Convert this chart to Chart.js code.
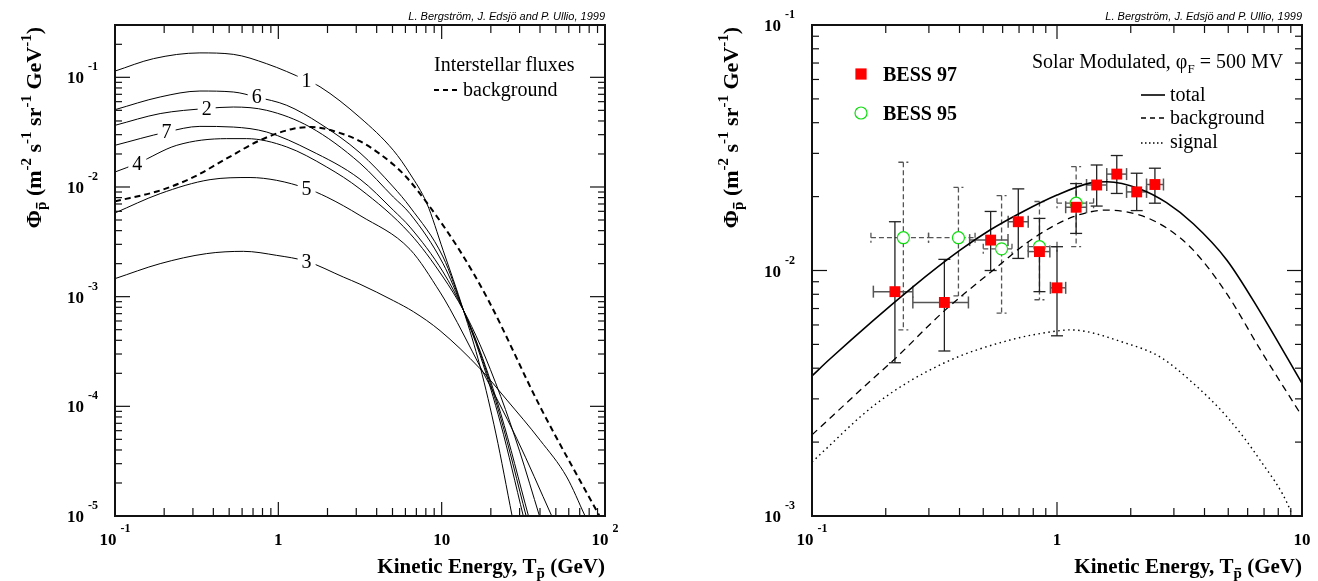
<!DOCTYPE html>
<html><head><meta charset="utf-8">
<script src="https://cdn.jsdelivr.net/npm/chart.js@4.4.1/dist/chart.umd.min.js"></script>
<style>
html,body{margin:0;padding:0;background:#fff;}
#wrap{position:relative;width:1318px;height:581px;overflow:hidden;background:#fff;}
canvas{position:absolute;top:0;}
</style></head><body>
<div id="wrap">
<canvas id="leftChart" width="659" height="581" style="left:0;width:659px;height:581px"></canvas>
<canvas id="rightChart" width="659" height="581" style="left:659px;width:659px;height:581px"></canvas>
</div>
<script>
// ================= DATA: left panel (interstellar fluxes) =================
const curve1Energy = [0.1,0.172,0.331,0.53,0.849,1.49,1.8,3.16,5.06,6.4,8.11,10.2,13.6,17.2,21.5,27.0];
const curve1Flux   = [0.114,0.148,0.167,0.162,0.133,0.094,0.082,0.043,0.0216,0.0132,0.0071,0.00265,7.5e-4,2.3e-4,5.6e-5,1e-5];
const curve6Energy = [0.1,0.189,0.331,0.53,0.737,1.125,1.8,3.16,5.06,6.4,10.2,13.6,17.2,23,31.6];
const curve6Flux   = [0.0507,0.0662,0.075,0.0735,0.066,0.0556,0.0378,0.0205,0.0100,0.00657,0.0023,7.5e-4,2.92e-4,6.9e-5,1e-5];
const curve2Energy = [0.1,0.189,0.364,0.53,0.849,1.563,3.16,5.06,6.4,10.2,13.6,17.2,23,32.9];
const curve2Flux   = [0.0365,0.0467,0.052,0.0536,0.050,0.0352,0.0165,0.0081,0.00571,0.0020,7.5e-4,3.07e-4,7.8e-5,1e-5];
const curve7Energy = [0.1,0.207,0.331,0.53,0.849,1.563,3.16,5.06,6.4,10.2,13.6,17.2,23,34.0];
const curve7Flux   = [0.024,0.0317,0.0357,0.0352,0.0317,0.0216,0.0118,0.00614,0.00431,0.00168,7.5e-4,3.18e-4,8.6e-5,1e-5];
const curve4Energy = [0.1,0.137,0.239,0.483,0.64,1.125,1.98,3.16,6.4,10.2,13.6,17.2,23,30,39.7];
const curve4Flux   = [0.0137,0.0164,0.024,0.0276,0.0276,0.0232,0.0152,0.0096,0.00376,0.00151,7.5e-4,3.63e-4,1.23e-4,3.9e-5,1e-5];
const curve5Energy = [0.1,0.189,0.382,0.671,0.977,1.49,1.98,3.16,6.4,9.77,11.2,17.2,28.8,47.2];
const curve5Flux   = [0.0058,0.0087,0.01167,0.0122,0.0115,0.0097,0.0081,0.0055,0.0027,0.0011,7.8e-4,2.3e-4,5.1e-5,1e-5];
const curve3Energy = [0.1,0.189,0.364,0.611,0.977,1.49,2.5,3.16,5.06,6.71,9.77,17.2,25.1,40.1,58.3,75.5];
const curve3Flux   = [0.00146,0.002,0.00247,0.00259,0.00238,0.0021,0.00151,0.0013,9.2e-4,7.3e-4,4.9e-4,2.2e-4,1.14e-4,4.9e-5,2.27e-5,1e-5];
const isBgEnergy   = [0.1,0.189,0.302,0.483,0.773,1.236,1.6,2.62,3.16,4.19,5.06,6.11,8.11,12.97,19.3,40.1,92.5];
const isBgFlux     = [0.0074,0.0093,0.0123,0.0182,0.0267,0.034,0.0352,0.0296,0.0262,0.0200,0.0160,0.0122,0.0072,0.0026,9.3e-4,9.9e-5,1e-5];
const curveLabelText   = ['1','6','2','7','4','5','3'];
const curveLabelEnergy = [1.49,0.737,0.364,0.207,0.137,1.49,1.49];
const curveLabelFlux   = [0.094,0.066,0.052,0.0317,0.0164,0.0097,0.0021];
const leftXTickValues = [0.1,1,10,100];
const leftXTickBase   = ['10','1','10','10'];
const leftXTickExp    = ['-1','','','2'];
const leftYTickValues = [0.1,0.01,0.001,1e-4,1e-5];
const leftYTickExp    = ['-1','-2','-3','-4','-5'];

// ================= DATA: right panel (solar modulated) =================
const bess97Energy     = [0.218,0.347,0.536,0.695,0.848,1.0,1.197,1.452,1.754,2.115,2.51];
const bess97Flux       = [0.0082,0.00741,0.0133,0.0158,0.01194,0.0085,0.0181,0.0223,0.0247,0.0209,0.0224];
const bess97FluxHigh   = [0.0158,0.0111,0.0174,0.0215,0.0163,0.0125,0.0226,0.0269,0.0294,0.0249,0.0261];
const bess97FluxLow    = [0.00421,0.0047,0.0100,0.0112,0.0082,0.00542,0.01416,0.0183,0.0206,0.01754,0.0188];
const bess97EnergyLow  = [0.178,0.258,0.44,0.632,0.763,0.94,1.085,1.32,1.596,1.923,2.32];
const bess97EnergyHigh = [0.258,0.435,0.631,0.763,0.935,1.085,1.32,1.596,1.923,2.32,2.72];
const bess95Energy     = [0.236,0.396,0.594,0.848,1.197];
const bess95Flux       = [0.0136,0.0136,0.01225,0.0125,0.0188];
const bess95FluxHigh   = [0.0276,0.0218,0.0202,0.0191,0.0265];
const bess95FluxLow    = [0.00573,0.00788,0.0067,0.0076,0.0125];
const bess95EnergyLow  = [0.174,0.299,0.50,0.763,1.0];
const bess95EnergyHigh = [0.299,0.463,0.655,1.0,1.41];
const totalEnergy = [0.1,0.118,0.259,0.402,0.533,0.728,1.0,1.36,1.6,2.18,2.8,3.6,4.93,6.74,10];
const totalFlux   = [0.00372,0.00435,0.0086,0.0121,0.01462,0.0174,0.0203,0.0227,0.0230,0.0215,0.0189,0.0155,0.01104,0.0068,0.00347];
const bgEnergy    = [0.1,0.178,0.215,0.344,0.55,0.80,1.167,1.6,2.18,2.8,3.6,4.93,6.74,10];
const bgFlux      = [0.00214,0.00364,0.00431,0.0068,0.01005,0.01352,0.01656,0.01762,0.0168,0.0149,0.0121,0.00805,0.00478,0.00255];
const sigEnergy   = [0.1,0.184,0.344,0.643,1.0,1.13,1.92,2.63,3.6,4.93,6.74,8.94,9.6];
const sigFlux     = [0.00166,0.00288,0.00419,0.00521,0.00567,0.00573,0.00505,0.00445,0.00347,0.00254,0.00169,0.00106,0.00085];
const rightXTickValues = [0.1,1,10];
const rightXTickBase   = ['10','1','10'];
const rightXTickExp    = ['-1','',''];
const rightYTickValues = [0.1,0.01,0.001];
const rightYTickExp    = ['-1','-2','-3'];

// ================= helpers =================
const SERIF = '"Liberation Serif","Times New Roman",Times,serif';
const SANS  = '"Liberation Sans",Arial,Helvetica,sans-serif';
const CREDIT = 'L. Bergström, J. Edsjö and P. Ullio, 1999';
function pts(xs, ys){ return xs.map((x,i)=>({x:x, y:ys[i]})); }
function line(ctx,x1,y1,x2,y2){ ctx.beginPath(); ctx.moveTo(x1,y1); ctx.lineTo(x2,y2); ctx.stroke(); }
function logTicks(min,max){
  const out=[]; const e0=Math.floor(Math.log10(min)-1e-9), e1=Math.ceil(Math.log10(max)+1e-9);
  for(let e=e0;e<=e1;e++) for(let m=1;m<=9;m++){ const v=m*Math.pow(10,e); if(v>=min*(1-1e-9)&&v<=max*(1+1e-9)) out.push({v:v,major:m===1}); }
  return out;
}
function fontOf(p){ return (p.italic?'italic ':'')+(p.bold?'bold ':'')+p.size+'px '+(p.family||SERIF); }
function richWidth(ctx,pieces){ let w=0; for(const p of pieces){ ctx.font=fontOf(p); w+=ctx.measureText(p.t).width; } return w; }
function drawRich(ctx,pieces,x,y){
  let cx=x;
  for(const p of pieces){
    ctx.font=fontOf(p); const w=ctx.measureText(p.t).width;
    ctx.fillText(p.t,cx,y+(p.dy||0));
    if(p.bar){ ctx.save(); ctx.lineWidth=1.5; ctx.strokeStyle='#000'; const by=y+(p.dy||0)-p.size*0.62; line(ctx,cx+1.5,by,cx+w-1,by); ctx.restore(); }
    cx+=w;
  }
}
function drawPow(ctx,base,exp,x,y,align){
  ctx.font='bold 17px '+SERIF; const wb=ctx.measureText(base).width;
  ctx.font='bold 12px '+SERIF; const we=exp?ctx.measureText(exp).width+4:0;
  const w=wb+we; const x0 = align==='center'?x-w/2:(align==='right'?x-w:x);
  ctx.textAlign='left'; ctx.textBaseline='alphabetic'; ctx.fillStyle='#000';
  ctx.font='bold 17px '+SERIF; ctx.fillText(base,x0,y);
  if(exp){ ctx.font='bold 12px '+SERIF; ctx.fillText(exp,x0+wb+4,y-13); }
}
function drawFrame(chart, xt, xb, xe, yt, ye){
  const ctx=chart.ctx, a=chart.chartArea, x=chart.scales.x, y=chart.scales.y;
  ctx.save();
  ctx.strokeStyle='#111'; ctx.lineWidth=1.2;
  for(const t of logTicks(x.min,x.max)){
    const p=x.getPixelForValue(t.v); const L=t.major?14:8;
    line(ctx,p,a.bottom,p,a.bottom-L); line(ctx,p,a.top,p,a.top+L);
  }
  for(const t of logTicks(y.min,y.max)){
    const p=y.getPixelForValue(t.v); const L=t.major?15:7;
    line(ctx,a.left,p,a.left+L,p); line(ctx,a.right,p,a.right-L,p);
  }
  ctx.lineWidth=2; ctx.strokeRect(a.left,a.top,a.right-a.left,a.bottom-a.top);
  for(let i=0;i<xt.length;i++) drawPow(ctx,xb[i],xe[i],x.getPixelForValue(xt[i]),a.bottom+29,'center');
  for(let i=0;i<yt.length;i++) drawPow(ctx,'10',ye[i],a.left-17,y.getPixelForValue(yt[i])+6,'right');
  // axis titles
  ctx.fillStyle='#000'; ctx.textAlign='left'; ctx.textBaseline='alphabetic';
  const xTitle=[{t:'Kinetic Energy, T',size:21,bold:true},{t:'p',size:15,bold:true,dy:5,bar:true},{t:' (GeV)',size:21,bold:true}];
  const wx=richWidth(ctx,xTitle); drawRich(ctx,xTitle,a.right-wx,a.bottom+57);
  const yTitle=[{t:'Φ',size:22,bold:true},{t:'p',size:15,bold:true,dy:5,bar:true},{t:' (m',size:22,bold:true},{t:'-2',size:15,bold:true,dy:-10},
    {t:' s',size:22,bold:true},{t:'-1',size:15,bold:true,dy:-10},{t:' sr',size:22,bold:true},{t:'-1',size:15,bold:true,dy:-10},
    {t:' GeV',size:22,bold:true},{t:'-1',size:15,bold:true,dy:-10},{t:')',size:22,bold:true}];
  const wy=richWidth(ctx,yTitle);
  ctx.save(); ctx.translate(a.left-74,a.top+2+wy); ctx.rotate(-Math.PI/2); drawRich(ctx,yTitle,0,0); ctx.restore();
  // credit
  ctx.font='italic 11px '+SANS; ctx.textAlign='right'; ctx.fillText(CREDIT,a.right,20);
  ctx.restore();
}

// ================= left chart =================
const leftCurveSets = [
  [curve1Energy,curve1Flux],[curve6Energy,curve6Flux],[curve2Energy,curve2Flux],[curve7Energy,curve7Flux],
  [curve4Energy,curve4Flux],[curve5Energy,curve5Flux],[curve3Energy,curve3Flux]
];
const leftDatasets = leftCurveSets.map(c=>({data:pts(c[0],c[1]),borderColor:'#000',borderWidth:1,pointRadius:0,cubicInterpolationMode:'monotone',fill:false}));
leftDatasets.push({data:pts(isBgEnergy,isBgFlux),borderColor:'#000',borderWidth:2,borderDash:[6,4],pointRadius:0,cubicInterpolationMode:'monotone',fill:false});

const leftDecor = {
  id:'leftDecor',
  afterDatasetsDraw(chart){
    const ctx=chart.ctx, x=chart.scales.x, y=chart.scales.y;
    ctx.save(); ctx.font='20px '+SERIF; ctx.textAlign='center'; ctx.textBaseline='middle';
    for(let i=0;i<curveLabelText.length;i++){
      const px=x.getPixelForValue(curveLabelEnergy[i]), py=y.getPixelForValue(curveLabelFlux[i]);
      const w=ctx.measureText(curveLabelText[i]).width;
      ctx.fillStyle='#fff'; ctx.fillRect(px-w/2-4,py-9,w+8,18);
      ctx.fillStyle='#000'; ctx.fillText(curveLabelText[i],px,py+1);
    }
    ctx.restore();
  },
  afterDraw(chart){
    drawFrame(chart,leftXTickValues,leftXTickBase,leftXTickExp,leftYTickValues,leftYTickExp);
    const ctx=chart.ctx; ctx.save();
    ctx.fillStyle='#000'; ctx.textAlign='left'; ctx.textBaseline='alphabetic';
    ctx.font='20px '+SERIF; ctx.fillText('Interstellar fluxes',434,71);
    ctx.strokeStyle='#000'; ctx.lineWidth=2; ctx.setLineDash([5,4]); line(ctx,434,90,460,90); ctx.setLineDash([]);
    ctx.fillText('background',463,96);
    ctx.restore();
  }
};

new Chart(document.getElementById('leftChart'), {
  type:'line',
  data:{datasets:leftDatasets},
  options:{
    responsive:false, animation:false, events:[], devicePixelRatio:1,
    layout:{padding:{left:115,right:54,top:25,bottom:65}},
    plugins:{legend:{display:false},tooltip:{enabled:false}},
    scales:{
      x:{type:'logarithmic',min:0.1,max:100,display:false},
      y:{type:'logarithmic',min:1e-5,max:0.3,display:false}
    }
  },
  plugins:[leftDecor]
});

// ================= right chart =================
const rightDecor = {
  id:'rightDecor',
  beforeDatasetsDraw(chart){
    const ctx=chart.ctx, x=chart.scales.x, y=chart.scales.y;
    ctx.save();
    // BESS 95: dashed grey error bars
    ctx.strokeStyle='#555'; ctx.lineWidth=1.3; ctx.setLineDash([5,3]);
    for(let i=0;i<bess95Energy.length;i++){
      const px=x.getPixelForValue(bess95Energy[i]), py=y.getPixelForValue(bess95Flux[i]);
      const yh=y.getPixelForValue(bess95FluxHigh[i]), yl=y.getPixelForValue(bess95FluxLow[i]);
      const xl=x.getPixelForValue(bess95EnergyLow[i]), xh=x.getPixelForValue(bess95EnergyHigh[i]);
      line(ctx,px,yh,px,yl); line(ctx,xl,py,xh,py);
      line(ctx,px-5,yh,px+5,yh); line(ctx,px-5,yl,px+5,yl);
      line(ctx,xl,py-5,xl,py+5); line(ctx,xh,py-5,xh,py+5);
    }
    ctx.setLineDash([]);
    // BESS 97: solid error bars
    for(let i=0;i<bess97Energy.length;i++){
      const px=x.getPixelForValue(bess97Energy[i]), py=y.getPixelForValue(bess97Flux[i]);
      const yh=y.getPixelForValue(bess97FluxHigh[i]), yl=y.getPixelForValue(bess97FluxLow[i]);
      const xl=x.getPixelForValue(bess97EnergyLow[i]), xh=x.getPixelForValue(bess97EnergyHigh[i]);
      ctx.strokeStyle='#222'; ctx.lineWidth=1.3;
      line(ctx,px,yh,px,yl); line(ctx,px-6,yh,px+6,yh); line(ctx,px-6,yl,px+6,yl);
      ctx.strokeStyle='#555'; ctx.lineWidth=1.5;
      line(ctx,xl,py,xh,py); line(ctx,xl,py-6,xl,py+6); line(ctx,xh,py-6,xh,py+6);
    }
    ctx.restore();
  },
  afterDraw(chart){
    drawFrame(chart,rightXTickValues,rightXTickBase,rightXTickExp,rightYTickValues,rightYTickExp);
    const ctx=chart.ctx; ctx.save();
    ctx.fillStyle='#000'; ctx.textAlign='left'; ctx.textBaseline='alphabetic';
    drawRich(ctx,[{t:'Solar Modulated, φ',size:20},{t:'F',size:13,dy:5},{t:' = 500 MV',size:20}],373,68);
    ctx.font='20px '+SERIF;
    ctx.strokeStyle='#000';
    ctx.lineWidth=1.6; line(ctx,482,95,506,95); ctx.fillText('total',511,101);
    ctx.lineWidth=1.3; ctx.setLineDash([5,4]); line(ctx,482,118,506,118); ctx.fillText('background',511,124);
    ctx.lineWidth=1.4; ctx.setLineDash([1.5,2.5]); line(ctx,482,143,506,143); ctx.setLineDash([]); ctx.fillText('signal',511,148);
    ctx.fillStyle='#ff0000'; ctx.fillRect(202-5.6,74-5.6,11.2,11.2);
    ctx.strokeStyle='#11dd11'; ctx.lineWidth=1.2; ctx.beginPath(); ctx.arc(202,113,6,0,Math.PI*2); ctx.stroke();
    ctx.fillStyle='#000'; ctx.font='bold 20px '+SERIF;
    ctx.fillText('BESS 97',224,81); ctx.fillText('BESS 95',224,120);
    ctx.restore();
  }
};

new Chart(document.getElementById('rightChart'), {
  type:'line',
  data:{datasets:[
    {data:pts(bess97Energy,bess97Flux),showLine:false,pointStyle:'rect',pointRadius:7.7,backgroundColor:'#ff0000',borderColor:'#ff0000',borderWidth:0,order:0},
    {data:pts(bess95Energy,bess95Flux),showLine:false,pointStyle:'circle',pointRadius:6,backgroundColor:'#ffffff',borderColor:'#11dd11',borderWidth:1.2,order:1},
    {data:pts(totalEnergy,totalFlux),borderColor:'#000',borderWidth:1.6,pointRadius:0,cubicInterpolationMode:'monotone',fill:false,order:2},
    {data:pts(bgEnergy,bgFlux),borderColor:'#000',borderWidth:1.3,borderDash:[7,5],pointRadius:0,cubicInterpolationMode:'monotone',fill:false,order:3},
    {data:pts(sigEnergy,sigFlux),borderColor:'#000',borderWidth:1.4,borderDash:[1.5,3.5],pointRadius:0,cubicInterpolationMode:'monotone',fill:false,order:4}
  ]},
  options:{
    responsive:false, animation:false, events:[], devicePixelRatio:1,
    layout:{padding:{left:153,right:16,top:25,bottom:65}},
    plugins:{legend:{display:false},tooltip:{enabled:false}},
    scales:{
      x:{type:'logarithmic',min:0.1,max:10,display:false},
      y:{type:'logarithmic',min:1e-3,max:0.1,display:false}
    }
  },
  plugins:[rightDecor]
});
</script>
</body></html>
